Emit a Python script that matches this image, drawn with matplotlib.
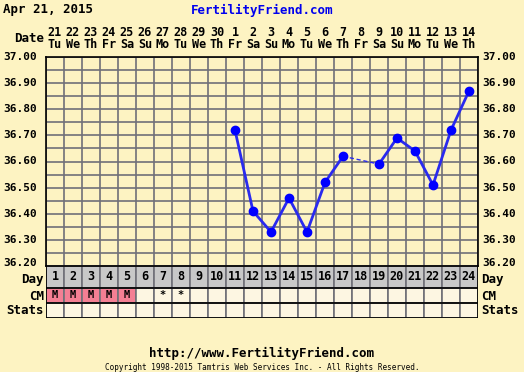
import matplotlib.pyplot as plt
import numpy as np

# cycle days and temperatures (None = no reading)
days = list(range(1, 25))
dates = ['21', '22', '23', '24', '25', '26', '27', '28', '29', '30', '1', '2',
         '3', '4', '5', '6', '7', '8', '9', '10', '11', '12', '13', '14']
weekdays = ['Tu', 'We', 'Th', 'Fr', 'Sa', 'Su', 'Mo', 'Tu', 'We', 'Th', 'Fr', 'Sa',
            'Su', 'Mo', 'Tu', 'We', 'Th', 'Fr', 'Sa', 'Su', 'Mo', 'Tu', 'We', 'Th']
temps = [None] * 10 + [36.72, 36.41, 36.33, 36.46, 36.33, 36.52, 36.62, None,
                       36.59, 36.69, 36.64, 36.51, 36.72, 36.87]
cm = ['M', 'M', 'M', 'M', 'M', '', '*', '*'] + [''] * 16
yticks = [36.20, 36.30, 36.40, 36.50, 36.60, 36.70, 36.80, 36.90, 37.00]

bg = '#fdf3c2'
gridc = '#707078'
blue = '#0000ff'
W, H = 524, 372
font = 'DejaVu Sans Mono'

fig = plt.figure(figsize=(W / 100, H / 100), dpi=100)
fig.patch.set_facecolor(bg)

def fx(px):
    return px / W

def fy(py):
    return 1 - py / H

L, R, T, B = 46, 478, 57, 266
ax = fig.add_axes([fx(L), fy(B), fx(R - L), (B - T) / H])
ax.set_facecolor(bg)
ax.set_xlim(0.5, 24.5)
ax.set_ylim(36.2, 37.0)
for d in np.arange(0.5, 25, 1):
    ax.axvline(d, color=gridc, lw=1.2, zorder=1)
for t in np.arange(36.2, 37.001, 0.05):
    ax.axhline(t, color=gridc, lw=1.2, zorder=1)
ax.set_xticks([])
ax.set_yticks([])
for s in ax.spines.values():
    s.set_color('black')
    s.set_linewidth(1.2)

# temperature line, dashed over the missing day
prev = None
for d, t in zip(days, temps):
    if t is None:
        continue
    if prev is not None:
        gap = d - prev[0] > 1
        ax.plot([prev[0], d], [prev[1], t], color='#2a2aee',
                lw=1.0 if gap else 2.0,
                linestyle=(0, (3, 2)) if gap else '-', zorder=3)
    prev = (d, t)
xs = [d for d, t in zip(days, temps) if t is not None]
ys = [t for t in temps if t is not None]
ax.plot(xs, ys, 'o', color=blue, markersize=6, zorder=4, clip_on=False)

# tick labels on both sides (36.20 nudged up to clear the Day label)
for t in yticks:
    off = 0.012 if t == 36.20 else 0
    ax.text(-0.02, t + off, f'{t:.2f}', transform=ax.get_yaxis_transform(),
            ha='right', va='center', fontsize=8, fontweight='bold', family=font)
    ax.text(1.01, t + off, f'{t:.2f}', transform=ax.get_yaxis_transform(),
            ha='left', va='center', fontsize=8, fontweight='bold', family=font)

# date header
for d, ds, wd in zip(days, dates, weekdays):
    ax.text(d, 37.0 + 0.095, ds, ha='center', va='center', fontsize=8.5,
            fontweight='bold', family=font, clip_on=False)
    ax.text(d, 37.0 + 0.047, wd, ha='center', va='center', fontsize=8.5,
            fontweight='bold', family=font, clip_on=False)
fig.text(fx(44), fy(39), 'Date', ha='right', va='center', fontsize=9,
         fontweight='bold', family=font)

# table rows below
rows_top, day_b, cm_b, st_b = 266, 288, 303, 318
tax = fig.add_axes([fx(L), fy(st_b), fx(R - L), (st_b - rows_top) / H])
tax.set_xlim(0.5, 24.5)
tax.set_ylim(st_b, rows_top)
tax.axis('off')
for d, c in zip(days, cm):
    tax.bar(d, day_b - rows_top, bottom=rows_top, width=1, color='#c8c8c8',
            edgecolor=gridc, lw=1.2)
    tax.bar(d, cm_b - day_b, bottom=day_b, width=1,
            color='#f47f94' if c == 'M' else '#fdf6e2', edgecolor=gridc, lw=1.2)
    tax.bar(d, st_b - cm_b, bottom=cm_b, width=1, color='#fdf6e2',
            edgecolor=gridc, lw=1.2)
    tax.text(d, (rows_top + day_b) / 2, str(d), ha='center', va='center',
             fontsize=8.5, fontweight='bold', family=font)
    if c:
        tax.text(d, (day_b + cm_b) / 2, c, ha='center', va='center',
                 fontsize=7.5, fontweight='bold', family=font)
for yy in (rows_top, day_b, cm_b, st_b):
    tax.axhline(yy, color='black', lw=1.2)
tax.axvline(0.5, color='black', lw=1.2)
tax.axvline(24.5, color='black', lw=1.2)

for label, py in (('Day', 279), ('CM', 296), ('Stats', 311)):
    fig.text(fx(44), fy(py), label, ha='right', va='center', fontsize=9,
             fontweight='bold', family=font)
    fig.text(fx(481), fy(py), label, ha='left', va='center', fontsize=9,
             fontweight='bold', family=font)

fig.text(fx(3), fy(10), 'Apr 21, 2015', ha='left', va='center', fontsize=9,
         fontweight='bold', family=font)
fig.text(fx(262), fy(10), 'FertilityFriend.com', ha='center', va='center',
         fontsize=9, fontweight='bold', family=font, color='#0000ee')
fig.text(fx(262), fy(353), 'http://www.FertilityFriend.com', ha='center',
         va='center', fontsize=9, fontweight='bold', family=font)
fig.text(fx(262), fy(367), 'Copyright 1998-2015 Tamtris Web Services Inc. - All Rights Reserved.',
         ha='center', va='center', fontsize=5.5, family=font)

fig.savefig('out.png', dpi=100, facecolor=bg)
